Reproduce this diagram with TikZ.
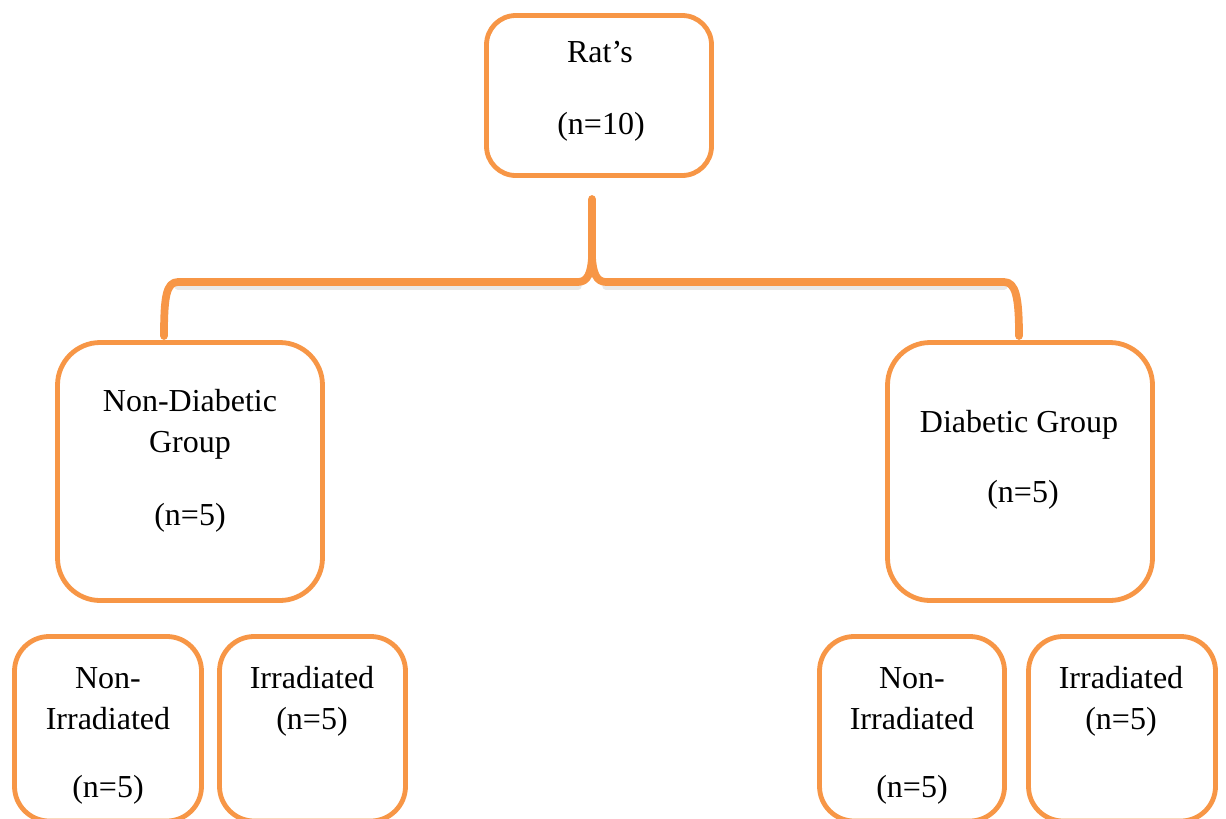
\documentclass[tikz,border=0pt]{standalone}
\usepackage{fontspec}
\setmainfont{Liberation Serif}
\definecolor{acc}{HTML}{F79646}
\begin{document}
\begin{tikzpicture}[x=0.75pt,y=-0.75pt,
  box/.style={draw=acc,line width=3.6pt,fill=white,inner sep=0pt},
  txt/.style={font=\fontsize{24}{28}\selectfont,anchor=base,inner sep=0pt},
  bracestroke/.style={draw=acc,line width=5.8pt,line cap=round,line join=round},
  braceshadow/.style={draw=black!25,line width=5.6pt,line cap=round,line join=round,opacity=0.35}]
\useasboundingbox (0,0) rectangle (1226,818);
\clip (0,0) rectangle (1226,818);
% boxes
\node[box,rounded corners=22pt,minimum width=168.75pt,minimum height=120pt] (top) at (599,95.5) {};
\node[box,rounded corners=32pt,minimum width=198.75pt,minimum height=193.5pt] (nd) at (190,471.5) {};
\node[box,rounded corners=32pt,minimum width=198.75pt,minimum height=193.5pt] (dg) at (1020,471.5) {};
\node[box,rounded corners=26pt,minimum width=140.25pt,minimum height=138.4pt] (ndni) at (108,728.75) {};
\node[box,rounded corners=26pt,minimum width=139.5pt,minimum height=138.4pt] (ndir) at (312.5,728.75) {};
\node[box,rounded corners=26pt,minimum width=138.75pt,minimum height=138.4pt] (dni) at (912,728.75) {};
\node[box,rounded corners=26pt,minimum width=140.25pt,minimum height=138.4pt] (dir) at (1122,728.75) {};
% texts
\node[txt] (t1) at (600,62) {Rat’s};
\node[txt] (t2) at (601,134) {(n=10)};
\node[txt] (t3) at (190,411) {Non-Diabetic};
\node[txt] (t4) at (190,452) {Group};
\node[txt] (t5) at (190,525) {(n=5)};
\node[txt] (t6) at (1019,432) {Diabetic Group};
\node[txt] (t7) at (1023,502) {(n=5)};
\node[txt] (t8) at (108,688) {Non-};
\node[txt] (t9) at (108,729) {Irradiated};
\node[txt] (t10) at (108,797) {(n=5)};
\node[txt] (t11) at (312,688) {Irradiated};
\node[txt] (t12) at (312,729) {(n=5)};
\node[txt] (t13) at (912,688) {Non-};
\node[txt] (t14) at (912,729) {Irradiated};
\node[txt] (t15) at (912,797) {(n=5)};
\node[txt] (t16) at (1121,688) {Irradiated};
\node[txt] (t17) at (1121,729) {(n=5)};
% brace
\coordinate (bl) at (164,336);
\coordinate (br) at (1019,336);
\coordinate (bt) at (592,199);
\coordinate (bc) at (592,258);
\draw[braceshadow] (178,286) -- (578,286);
\draw[braceshadow] (1004,286) -- (606,286);
\draw[bracestroke] (bl) .. controls (164,298) and (166,282) .. (178,282) -- (578,282)
  .. controls (588,282) and (591,272) .. (bc) -- (bt);
\draw[bracestroke] (br) .. controls (1019,298) and (1016,282) .. (1004,282) -- (606,282)
  .. controls (596,282) and (593,272) .. (bc);
\end{tikzpicture}
\end{document}
